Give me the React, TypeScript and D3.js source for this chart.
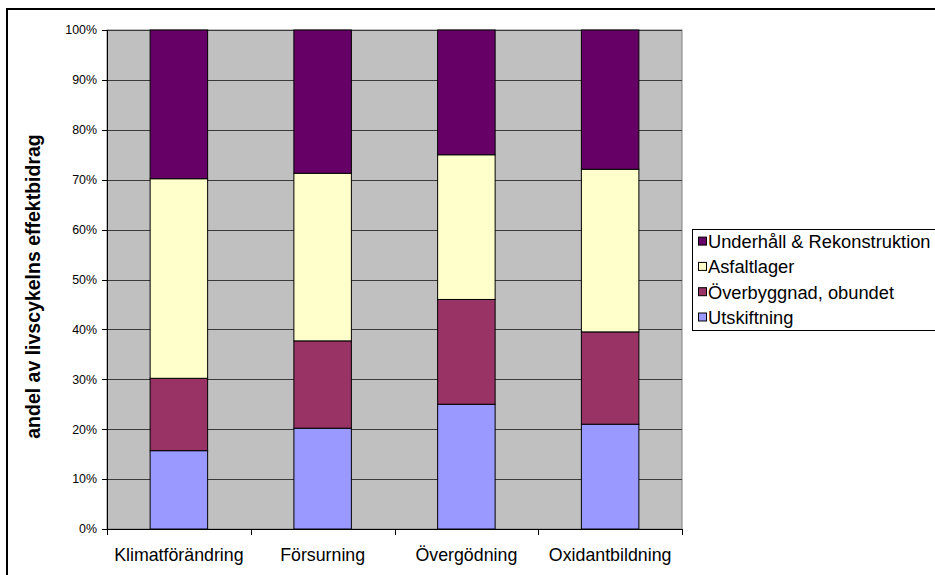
import React from "react";
import * as d3 from "d3";

const categories = ["Klimatförändring", "Försurning", "Övergödning", "Oxidantbildning"];
const seriesNames = ["Utskiftning", "Överbyggnad, obundet", "Asfaltlager", "Underhåll & Rekonstruktion"];
const seriesColors = ["#9999FF", "#993366", "#FFFFCC", "#660066"];
// percentage contribution of each life-cycle phase, per impact category
const utskiftning = [15.7, 20.2, 25.0, 21.0];
const overbyggnad = [14.5, 17.5, 21.0, 18.5];
const asfaltlager = [40.0, 33.6, 29.0, 32.6];
const underhall = [29.8, 28.7, 25.0, 27.9];
const yTicks = [0, 10, 20, 30, 40, 50, 60, 70, 80, 90, 100];
const yTitle = "andel av livscykelns effektbidrag";

const W = 935;
const H = 575;
const plot = { left: 107, right: 682, top: 30, bottom: 529 };
const FONT = "'Liberation Sans', Arial, sans-serif";

export default function App() {
  const series = [utskiftning, overbyggnad, asfaltlager, underhall];
  const rows = categories.map((c, i) => {
    const r: Record<string, number | string> = { cat: c };
    seriesNames.forEach((s, j) => (r[s] = series[j][i]));
    return r;
  });
  const stacked = d3.stack<Record<string, number | string>>().keys(seriesNames)(rows as any);

  const x = d3.scaleBand<string>().domain(categories).range([plot.left, plot.right]);
  const y = d3.scaleLinear().domain([0, 100]).range([plot.bottom, plot.top]);
  const barW = x.bandwidth() * 0.4;

  const boundaries = d3.range(categories.length + 1).map((i) => plot.left + i * x.step());

  const legendItemsY = seriesNames.map((_, i) => 241.6 + i * 25.3);
  const legendOrder = [3, 2, 1, 0];

  return (
    <svg width={W} height={H} style={{ position: "absolute", left: 0, top: 0, background: "#fff" }}>
      <rect x={7} y={9} width={1000} height={700} fill="#fff" stroke="#000" strokeWidth={2} />
      {/* plot area */}
      <rect x={plot.left} y={plot.top} width={plot.right - plot.left} height={plot.bottom - plot.top} fill="#C0C0C0" stroke="#808080" strokeWidth={1} />
      {yTicks.map((t) => (
        <line key={t} x1={plot.left} x2={plot.right} y1={Math.round(y(t)) + 0.5} y2={Math.round(y(t)) + 0.5} stroke="#3a3a3a" strokeWidth={1} />
      ))}
      {/* bars */}
      {stacked.map((s, j) => (
        <g key={s.key}>
          {s.map((d, i) => {
            const cx = (x(categories[i]) as number) + x.bandwidth() / 2;
            return (
              <rect
                key={i}
                x={cx - barW / 2}
                y={y(d[1])}
                width={barW}
                height={y(d[0]) - y(d[1])}
                fill={seriesColors[j]}
                stroke="#000"
                strokeWidth={1}
              />
            );
          })}
        </g>
      ))}
      {/* axes */}
      <line x1={plot.left + 0.5} x2={plot.left + 0.5} y1={plot.top} y2={plot.bottom} stroke="#000" />
      <line x1={plot.left} x2={plot.right} y1={plot.bottom + 0.5} y2={plot.bottom + 0.5} stroke="#000" />
      {yTicks.map((t) => (
        <g key={t}>
          <line x1={plot.left - 5} x2={plot.left} y1={Math.round(y(t)) + 0.5} y2={Math.round(y(t)) + 0.5} stroke="#000" />
          <text x={97} y={y(t)} dy="0.35em" textAnchor="end" fontFamily={FONT} fontSize={12.4} fill="#000">
            {t}%
          </text>
        </g>
      ))}
      {boundaries.map((b, i) => (
        <line key={i} x1={Math.round(b) + 0.5} x2={Math.round(b) + 0.5} y1={plot.bottom} y2={plot.bottom + 6} stroke="#000" />
      ))}
      {categories.map((c) => (
        <text key={c} x={(x(c) as number) + x.bandwidth() / 2} y={561} textAnchor="middle" fontFamily={FONT} fontSize={17.8} fill="#000">
          {c}
        </text>
      ))}
      <text
        transform={`translate(40,286.5) rotate(-90)`}
        textAnchor="middle"
        fontFamily={FONT}
        fontWeight="bold"
        fontSize={19.5}
        fill="#000"
      >
        {yTitle}
      </text>
      {/* legend */}
      <rect x={692.5} y={229.5} width={300} height={101} fill="#fff" stroke="#000" strokeWidth={1} />
      {legendOrder.map((j, k) => (
        <g key={j}>
          <rect x={698.5} y={legendItemsY[k] - 4.5} width={8} height={8} fill={seriesColors[j]} stroke="#000" strokeWidth={1} />
          <text x={708} y={legendItemsY[k]} dy="0.35em" fontFamily={FONT} fontSize={18.3} fill="#000">
            {seriesNames[j]}
          </text>
        </g>
      ))}
    </svg>
  );
}
